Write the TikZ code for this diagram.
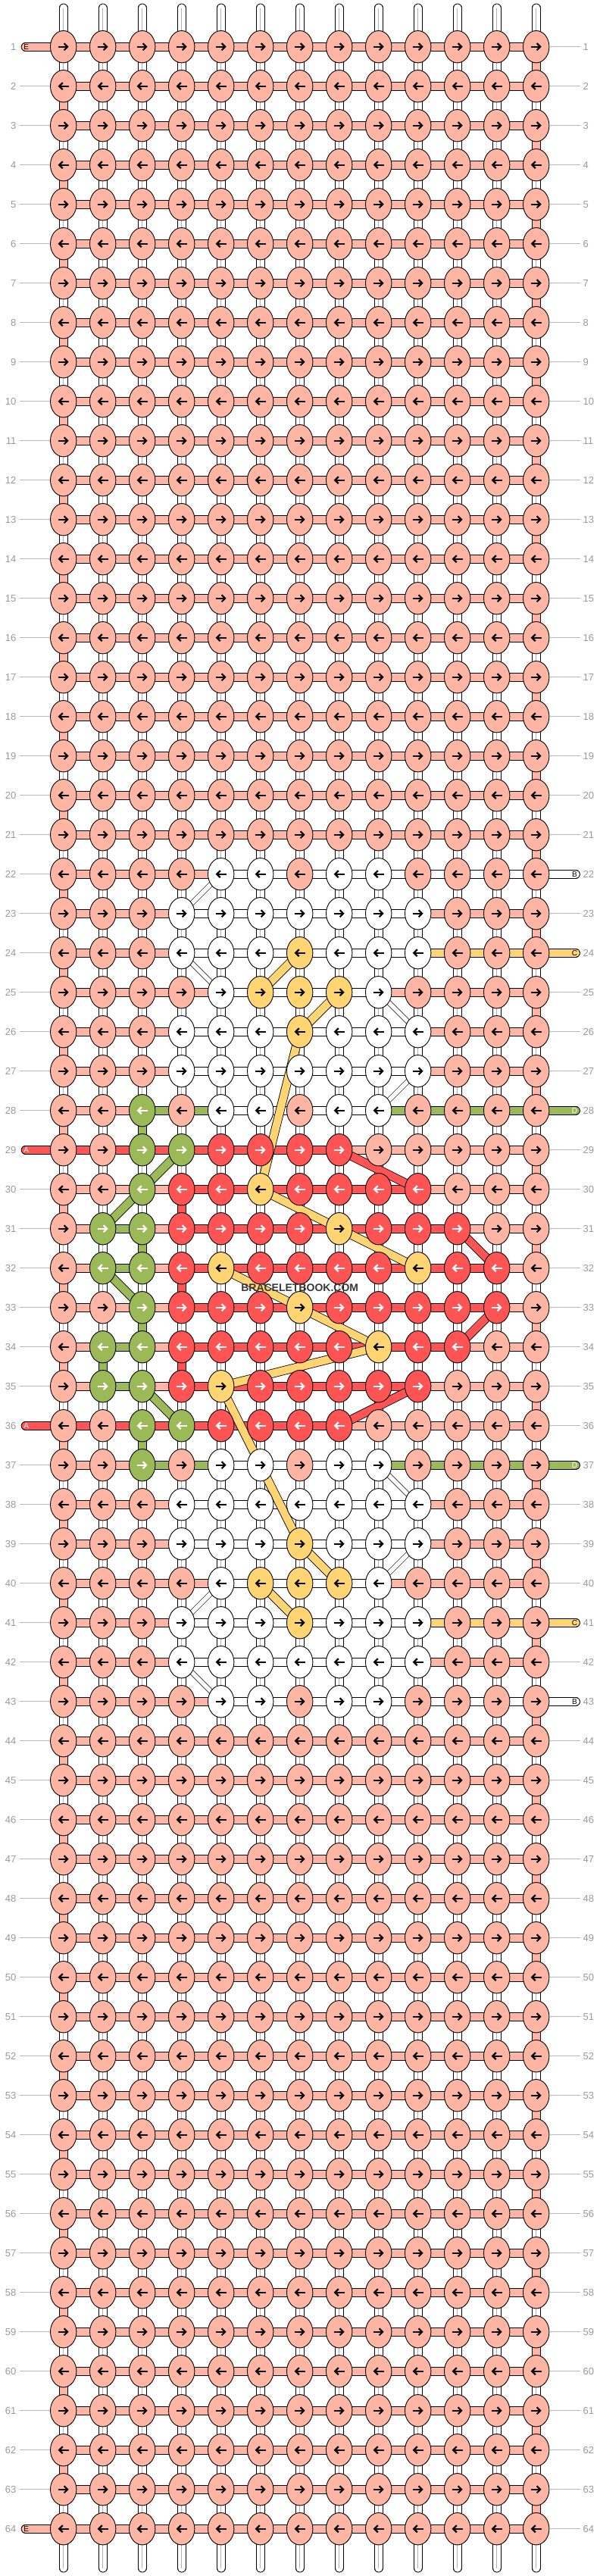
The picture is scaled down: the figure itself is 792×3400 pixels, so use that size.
\documentclass[tikz,border=0pt]{standalone}
\usepackage{fontspec}
\setmainfont{Liberation Sans}
\setsansfont{Liberation Sans}
\usetikzlibrary{shapes.geometric,arrows.meta,backgrounds}

\definecolor{kS}{HTML}{FFB5A3}
\definecolor{kW}{HTML}{FFFFFF}
\definecolor{kY}{HTML}{FFD473}
\definecolor{kG}{HTML}{9CB957}
\definecolor{kR}{HTML}{FF5454}
\definecolor{numgray}{HTML}{9A9A9A}
\definecolor{linegray}{HTML}{BBBBBB}

% row data: knot colours, bar colours, coloured links between rows
\newcommand\knotrow[2]{\expandafter\def\csname kn#1\endcsname{#2}}
\newcommand\barrow[2]{\expandafter\def\csname br#1\endcsname{#2}}
\newcommand\vlink[3]{\expandafter\def\csname vl#1-#2\endcsname{#3}}
\newcommand\nolineL[1]{\expandafter\def\csname noL#1\endcsname{}}
\newcommand\nolineR[1]{\expandafter\def\csname noR#1\endcsname{}}
\def\plainknots{S,S,S,S,S,S,S,S,S,S,S,S,S}
\def\plainbars{S,S,S,S,S,S,S,S,S,S,S,S}

\knotrow{22}{S,S,S,S,W,W,S,W,W,S,S,S,S}
\knotrow{23}{S,S,S,W,W,W,W,W,W,W,S,S,S}
\knotrow{24}{S,S,S,W,W,W,Y,W,W,W,S,S,S}
\knotrow{25}{S,S,S,S,W,Y,Y,Y,W,S,S,S,S}
\knotrow{26}{S,S,S,W,W,W,Y,W,W,W,S,S,S}
\knotrow{27}{S,S,S,W,W,W,W,W,W,W,S,S,S}
\knotrow{28}{S,S,G,S,W,W,S,W,W,S,S,S,S}
\knotrow{29}{S,S,G,G,R,R,R,R,S,S,S,S,S}
\knotrow{30}{S,S,G,R,R,Y,R,R,R,R,S,S,S}
\knotrow{31}{S,G,G,R,R,R,R,Y,R,R,R,S,S}
\knotrow{32}{S,G,G,R,Y,R,R,R,R,Y,R,R,S}
\knotrow{33}{S,S,G,R,R,R,Y,R,R,R,R,R,S}
\knotrow{34}{S,G,G,R,R,R,R,R,Y,R,R,S,S}
\knotrow{35}{S,G,G,R,Y,R,R,R,R,R,S,S,S}
\knotrow{36}{S,S,G,G,R,R,R,R,S,S,S,S,S}
\knotrow{37}{S,S,G,S,W,W,S,W,W,S,S,S,S}
\knotrow{38}{S,S,S,W,W,W,W,W,W,W,S,S,S}
\knotrow{39}{S,S,S,W,W,W,Y,W,W,W,S,S,S}
\knotrow{40}{S,S,S,S,W,Y,Y,Y,W,S,S,S,S}
\knotrow{41}{S,S,S,W,W,W,Y,W,W,W,S,S,S}
\knotrow{42}{S,S,S,W,W,W,W,W,W,W,S,S,S}
\knotrow{43}{S,S,S,S,W,W,S,W,W,S,S,S,S}

\barrow{22}{S,S,S,S,W,W,W,W,W,W,W,W}
\barrow{23}{S,S,S,W,W,W,W,W,W,S,S,S}
\barrow{24}{S,S,S,W,W,W,W,W,W,Y,Y,Y}
\barrow{25}{S,S,S,S,W,W,W,W,S,S,S,S}
\barrow{26}{S,S,S,W,W,W,W,W,W,S,S,S}
\barrow{27}{S,S,S,W,W,W,W,W,W,S,S,S}
\barrow{28}{S,S,G,G,W,W,W,W,G,G,G,G}
\barrow{29}{R,R,R,R,R,R,R,S,S,S,S,S}
\barrow{30}{S,S,S,R,R,R,R,R,R,S,S,S}
\barrow{31}{S,G,S,R,R,R,R,R,R,R,S,S}
\barrow{32}{S,G,S,R,R,R,R,R,R,R,R,S}
\barrow{33}{S,S,S,R,R,R,R,R,R,R,R,S}
\barrow{34}{S,G,S,R,R,R,R,R,R,R,S,S}
\barrow{35}{S,G,S,R,R,R,R,R,R,S,S,S}
\barrow{36}{R,R,R,R,R,R,R,S,S,S,S,S}
\barrow{37}{S,S,G,G,W,W,W,W,G,G,G,G}
\barrow{38}{S,S,S,W,W,W,W,W,W,S,S,S}
\barrow{39}{S,S,S,W,W,W,W,W,W,S,S,S}
\barrow{40}{S,S,S,S,W,W,W,W,S,S,S,S}
\barrow{41}{S,S,S,W,W,W,W,W,W,Y,Y,Y}
\barrow{42}{S,S,S,W,W,W,W,W,W,S,S,S}
\barrow{43}{S,S,S,S,W,W,W,W,W,W,W,W}

\vlink{28}{3}{G}\vlink{31}{3}{G}\vlink{33}{3}{G}\vlink{36}{3}{G}
\vlink{34}{2}{G}
\vlink{30}{4}{R}\vlink{32}{4}{R}\vlink{34}{4}{R}

\nolineL{1}\nolineL{29}\nolineL{36}\nolineL{64}
\nolineR{22}\nolineR{24}\nolineR{28}\nolineR{37}\nolineR{41}\nolineR{43}

\tikzset{
  knot/.style={ellipse, draw=black, line width=0.9pt, minimum width=34.4pt,
    minimum height=42.4pt, inner sep=0pt},
  arrowmark/.style={line width=2.2pt, -{Straight Barb[length=4.5pt,width=9pt]}},
  aS/.style={draw=black}, aW/.style={draw=black}, aY/.style={draw=black},
  aR/.style={draw=white}, aG/.style={draw=white},
  thread/.style={draw=black, line width=0.8pt, double=#1, double distance=10.2pt},
  thinwarp/.style={draw=black, line width=0.6pt, double=white, double distance=5.6pt},
  warpmid/.style={draw=gray!60, line width=0.6pt},
  numlab/.style={font=\fontsize{13}{13}\selectfont, text=numgray, inner sep=0pt},
  numline/.style={draw=linegray, line width=1pt},
  endlab/.style={font=\fontsize{10}{10}\selectfont, inner sep=0pt},
  brand/.style={font=\fontsize{14}{14}\selectfont\bfseries, text=black!78, inner sep=0pt}
}

\begin{document}
\begin{tikzpicture}[x=1pt, y=-1pt]
\useasboundingbox (0,0) rectangle (792,3400);

% knots
\foreach \r in {1,...,64}{
  \ifcsname kn\r\endcsname \expandafter\let\expandafter\kl\csname kn\r\endcsname
  \else \let\kl\plainknots \fi
  \ifodd\r\relax \def\ax{-7}\def\bx{7}\else \def\ax{7}\def\bx{-7}\fi
  \foreach \k [count=\c] in \kl {
    \node[knot, fill=k\k] (k-\r-\c) at ({83.7+52*(\c-1)},{61.7+52*(\r-1)}) {};
    \draw[arrowmark, a\k] ([xshift=\ax]k-\r-\c.center) -- ([xshift=\bx]k-\r-\c.center);
  }
}

\begin{pgfonlayer}{background}
\fill[white] (0,0) rectangle (792,3400);

% warp ends at top and bottom
\foreach \c in {1,...,13}{
  \path (k-1-\c.center) ++(0,-51.2) coordinate (wt-\c);
  \path (k-64-\c.center) ++(0,51.8) coordinate (wb-\c);
  \draw[thread=white, line cap=round] (wt-\c) -- (k-1-\c.center);
  \draw[warpmid] (wt-\c) -- (k-1-\c.center);
  \draw[thread=white, line cap=round] (k-64-\c.center) -- (wb-\c);
  \draw[warpmid] (k-64-\c.center) -- (wb-\c);
}

% links between rows
\foreach \r in {1,...,63}{
  \pgfmathtruncatemacro\rn{\r+1}
  \foreach \c in {1,...,13}{
    \def\vc{}
    \ifodd\r\relax \ifnum\c=13 \def\vc{S}\fi \else \ifnum\c=1 \def\vc{S}\fi \fi
    \ifcsname vl\r-\c\endcsname \edef\vc{\csname vl\r-\c\endcsname}\fi
    \ifx\vc\empty
      \draw[thread=white] (k-\r-\c.center) -- (k-\rn-\c.center);
      \draw[warpmid] (k-\r-\c.center) -- (k-\rn-\c.center);
    \else
      \draw[thread=k\vc] (k-\r-\c.center) -- (k-\rn-\c.center);
    \fi
  }
}

% bars along each row
\foreach \r in {1,...,64}{
  \ifcsname br\r\endcsname \expandafter\let\expandafter\bl\csname br\r\endcsname
  \else \let\bl\plainbars \fi
  \foreach \bc [count=\c] in \bl {
    \pgfmathtruncatemacro\cn{\c+1}
    \draw[thread=k\bc] (k-\r-\c.center) -- (k-\r-\cn.center);
  }
}

% loose ends
\foreach \r/\col/\lab/\tc in {1/kS/E/black,29/kR/A/white,36/kR/A/white,64/kS/E/black}{
  \path (k-\r-1.center) ++(-50.1,0) coordinate (el-\r);
  \draw[thread=\col, line cap=round] (el-\r) -- (k-\r-1.center);
  \node[endlab, text=\tc] (eln-\r) at ([xshift=1]el-\r) {\lab};
}
\foreach \r/\col/\lab/\tc in {22/kW/B/black,24/kY/C/black,28/kG/D/white,37/kG/D/white,41/kY/C/black,43/kW/B/black}{
  \path (k-\r-13.center) ++(52.3,0) coordinate (er-\r);
  \draw[thread=\col, line cap=round] (k-\r-13.center) -- (er-\r);
  \node[endlab, text=\tc] (ern-\r) at ([xshift=-1.5]er-\r) {\lab};
}

% carried threads
\foreach \a/\z in {25-6/24-7,25-8/26-7,26-7/30-6,30-6/31-8,31-8/32-10,32-5/33-7,
    33-7/34-9,34-9/35-5,35-5/39-7,39-7/40-8,40-6/41-7}
  \draw[thread=kY] (k-\a.center) -- (k-\z.center);
\foreach \a/\z in {29-4/30-3,30-3/31-2,32-2/33-3,35-3/36-4}
  \draw[thread=kG] (k-\a.center) -- (k-\z.center);
\foreach \a/\z in {29-8/30-10,31-11/32-12,33-12/34-11,36-8/35-10}
  \draw[thread=kR] (k-\a.center) -- (k-\z.center);
\foreach \a/\z in {22-5/23-4,24-4/25-5,25-9/26-10,27-10/28-9,37-9/38-10,
    39-10/40-9,40-5/41-4,42-4/43-5}
  \draw[thinwarp] (k-\a.center) -- (k-\z.center);
\end{pgfonlayer}

% row numbers
\foreach \r in {1,...,64}{
  \path (k-\r-1.center) ++(-62.2,0) node[numlab, anchor=east] (nl-\r) {\r};
  \path (k-\r-13.center) ++(61.8,0) node[numlab, anchor=west] (nr-\r) {\r};
  \ifcsname noL\r\endcsname\else \draw[numline] ([xshift=4.5]nl-\r.east) -- (k-\r-1.west);\fi
  \ifcsname noR\r\endcsname\else \draw[numline] (k-\r-13.east) -- ([xshift=-3.5]nr-\r.west);\fi
}

\node[brand] (brand) at (395.7,1699.7) {BRACELETBOOK.COM};
\end{tikzpicture}
\end{document}
